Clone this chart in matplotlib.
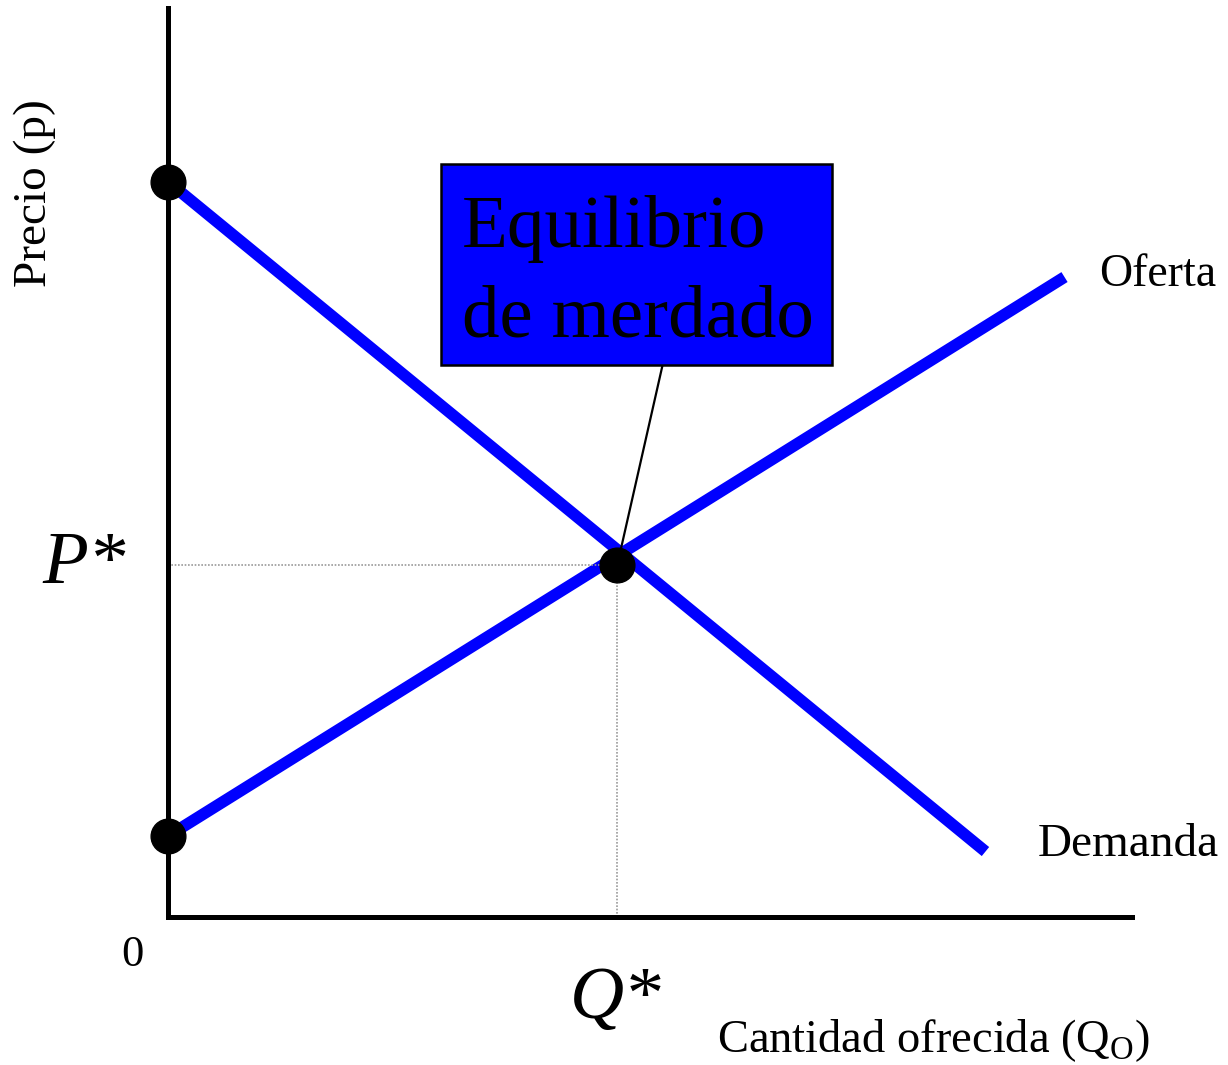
import matplotlib.pyplot as plt
from matplotlib.patches import Rectangle

plt.rcParams['font.family'] = ['Liberation Serif', 'DejaVu Serif']

# curves (quantity, price)
demand_q = [0.0, 8.48]
demand_p = [8.09, 0.72]
supply_q = [0.0, 9.30]
supply_p = [0.89, 7.04]

# equilibrium point
q_star, p_star = 4.66, 3.87

# endpoints marked on the price axis
axis_pts_q = [0.0, 0.0]
axis_pts_p = [8.09, 0.89]

# annotation box (left, bottom, right, top) and where the pointer leaves it
box = (2.83, 6.07, 6.89, 8.28)
box_anchor = (5.13, 6.07)

fig = plt.figure(figsize=(12.28, 10.65), dpi=100)
W, H = 1228, 1065
ax = fig.add_axes([168 / W, (H - 917) / H, (1132 - 168) / W, (917 - 8) / H])
ax.set_xlim(0, 10)
ax.set_ylim(0, 10)
for s in ['top', 'right']:
    ax.spines[s].set_visible(False)
for s in ['left', 'bottom']:
    ax.spines[s].set_linewidth(3.6)
ax.set_xticks([])
ax.set_yticks([])

blue = '#0000ff'
ax.plot(demand_q, demand_p, color=blue, lw=8.4, solid_capstyle='butt', clip_on=False)
ax.plot(supply_q, supply_p, color=blue, lw=8.4, solid_capstyle='butt', clip_on=False)

# guide lines to the axes
ax.plot([0, q_star], [p_star, p_star], color='#999999', lw=1.2, ls=(0, (1, 1)))
ax.plot([q_star, q_star], [0, p_star], color='#999999', lw=1.2, ls=(0, (1, 1)))

# pointer from box to equilibrium
ax.plot([box_anchor[0], q_star], [box_anchor[1], p_star], color='black', lw=1.6)

ax.plot(axis_pts_q, axis_pts_p, 'o', color='black', ms=25, clip_on=False, zorder=5)
ax.plot([q_star], [p_star], 'o', color='black', ms=25, clip_on=False, zorder=5)

ax.add_patch(Rectangle((box[0], box[1]), box[2] - box[0], box[3] - box[1],
                       facecolor=blue, edgecolor='black', lw=1.8, zorder=6))
ax.text(box[0] + 0.22, (box[1] + box[3]) / 2 - 0.1, 'Equilibrio\nde merdado',
        fontsize=54, va='center', ha='left', linespacing=1.42, zorder=7)

ax.text(-0.87, p_star, 'P*', fontsize=54, style='italic', ha='center', va='center', clip_on=False)
ax.text(q_star - 0.02, -0.92, 'Q*', fontsize=54, style='italic', ha='center', va='center', clip_on=False)
ax.text(-0.37, -0.42, '0', fontsize=32, ha='center', va='center', clip_on=False)
ax.text(9.66, 7.06, 'Oferta', fontsize=33, ha='left', va='center', clip_on=False)
ax.text(9.02, 0.79, 'Demanda', fontsize=34, ha='left', va='center', clip_on=False)
ax.text(10.19, -1.36, 'Cantidad ofrecida (Q$_\\mathregular{O}$)', fontsize=33.5,
        ha='right', va='center', clip_on=False)
ax.text(-1.38, 7.96, 'Precio (p)', fontsize=34, rotation=90, ha='center', va='center', clip_on=False)

fig.savefig('out.png', dpi=100)
